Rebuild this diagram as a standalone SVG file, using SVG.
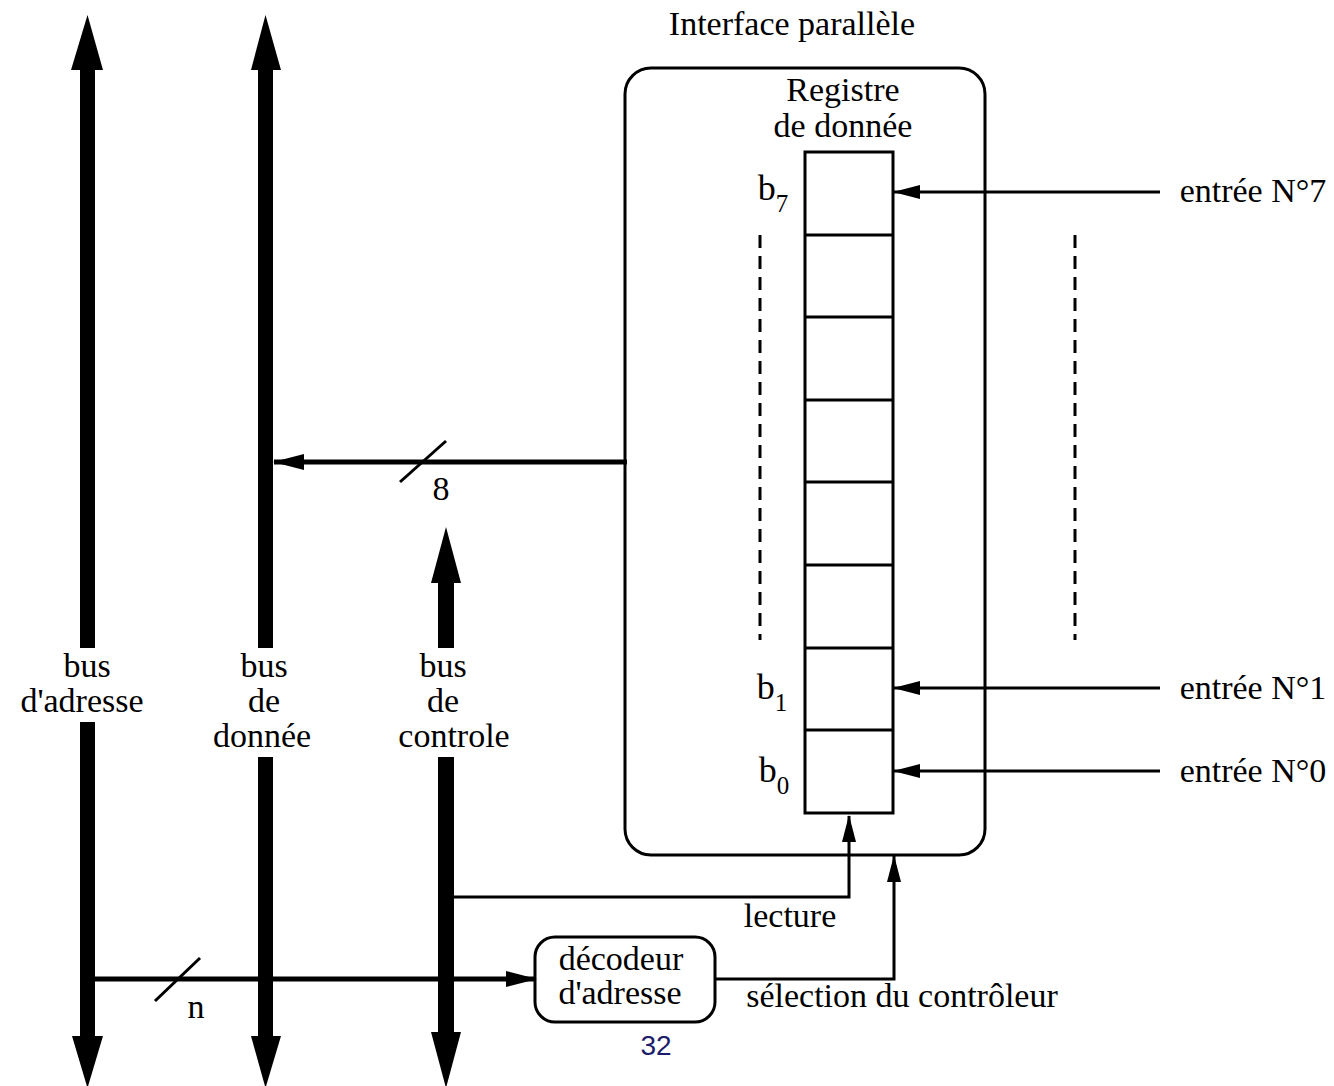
<svg xmlns="http://www.w3.org/2000/svg" width="1334" height="1086" viewBox="0 0 1334 1086">
  <style>
    .t { font-family: "Liberation Serif", "Times New Roman", serif; font-size: 34px; fill: #000; text-anchor: middle; }
    .b { font-size: 36px; }
    .sub { font-size: 25px; }
    .num { font-family: "Liberation Sans", Arial, sans-serif; font-size: 28px; fill: #1c1c6a; text-anchor: middle; }
    .box { fill: none; stroke: #000; stroke-width: 3; }
    .ln { fill: none; stroke: #000; stroke-width: 3; }
    .thick { fill: none; stroke: #000; stroke-width: 5; }
    .dash { fill: none; stroke: #000; stroke-width: 3; stroke-dasharray: 13 8; }
    .bus { fill: #000; }
  </style>
  <defs>
    <marker id="ah" markerUnits="userSpaceOnUse" markerWidth="28" markerHeight="14" refX="26" refY="7" orient="auto">
      <path d="M0,0 L27,7 L0,14 Z" fill="#000"/>
    </marker>
    <marker id="ahBig" markerUnits="userSpaceOnUse" markerWidth="32" markerHeight="16" refX="30" refY="8" orient="auto">
      <path d="M0,0 L31,8 L0,16 Z" fill="#000"/>
    </marker>
  </defs>

  <!-- system buses -->
  <g id="bus-adresse">
    <polygon class="bus" points="87.5,15 103,70 71,70"/>
    <rect class="bus" x="80" y="69" width="15" height="579"/>
    <rect class="bus" x="80" y="722" width="15" height="315"/>
    <polygon class="bus" points="72,1036 103,1036 87.5,1088"/>
    <text class="t" x="87" y="677">bus</text>
    <text class="t" x="82" y="712">d'adresse</text>
  </g>
  <g id="bus-donnee">
    <polygon class="bus" points="265.5,15 281,70 251,70"/>
    <rect class="bus" x="258" y="69" width="15" height="579"/>
    <rect class="bus" x="258" y="757" width="15" height="280"/>
    <polygon class="bus" points="251,1036 281,1036 265.5,1088"/>
    <text class="t" x="264" y="677">bus</text>
    <text class="t" x="264" y="712">de</text>
    <text class="t" x="262" y="747">donnée</text>
  </g>
  <g id="bus-controle">
    <polygon class="bus" points="446,527 461,583 431,583"/>
    <rect class="bus" x="438" y="582" width="16" height="66"/>
    <rect class="bus" x="438" y="757" width="16" height="276"/>
    <polygon class="bus" points="431,1032 461,1032 446,1088"/>
    <text class="t" x="443" y="677">bus</text>
    <text class="t" x="443" y="712">de</text>
    <text class="t" x="454" y="747">controle</text>
  </g>

  <!-- parallel interface -->
  <g id="interface">
    <text class="t" x="792" y="35">Interface parallèle</text>
    <rect class="box" x="625" y="68" width="360" height="787" rx="26" ry="26"/>
  </g>

  <g id="registre">
    <text class="t" x="843" y="101">Registre</text>
    <text class="t" x="843" y="137">de donnée</text>
    <rect class="box" x="805" y="152" width="88" height="661"/>
    <path class="ln" d="M805,235 H893 M805,317 H893 M805,400 H893 M805,482 H893 M805,565 H893 M805,648 H893 M805,730 H893"/>
    <text class="t b" x="773" y="200">b<tspan class="sub" dy="12">7</tspan></text>
    <text class="t b" x="772" y="699">b<tspan class="sub" dy="12">1</tspan></text>
    <text class="t b" x="774" y="782">b<tspan class="sub" dy="12">0</tspan></text>
  </g>

  <g id="decodeur">
    <rect class="box" x="535" y="937" width="180" height="85" rx="20" ry="20"/>
    <text class="t" x="621" y="970">décodeur</text>
    <text class="t" x="620" y="1004">d'adresse</text>
  </g>

  <g id="entrees">
    <text class="t" x="1253" y="202">entrée N°7</text>
    <text class="t" x="1253" y="699">entrée N°1</text>
    <text class="t" x="1253" y="782">entrée N°0</text>
  </g>

  <!-- connectors -->
  <g id="connectors">
    <line class="ln" x1="1160" y1="192" x2="894" y2="192" marker-end="url(#ah)"/>
    <line class="ln" x1="1160" y1="688" x2="894" y2="688" marker-end="url(#ah)"/>
    <line class="ln" x1="1160" y1="771" x2="894" y2="771" marker-end="url(#ah)"/>
    <line class="dash" x1="760" y1="235" x2="760" y2="640"/>
    <line class="dash" x1="1075" y1="235" x2="1075" y2="640"/>

    <!-- 8-bit data path to data bus -->
    <line class="thick" x1="627" y1="462" x2="274" y2="462" marker-end="url(#ahBig)"/>
    <line class="ln" x1="400" y1="482" x2="446" y2="441"/>
    <text class="t" x="441" y="500">8</text>

    <!-- n-bit address path to decoder -->
    <line class="thick" x1="95" y1="979" x2="536" y2="979" marker-end="url(#ahBig)"/>
    <line class="ln" x1="155" y1="1001" x2="200" y2="958"/>
    <text class="t" x="196" y="1018">n</text>

    <!-- read strobe -->
    <polyline class="ln" points="454,897 849,897 849,816" marker-end="url(#ah)"/>
    <text class="t" x="790" y="927">lecture</text>

    <!-- chip select -->
    <polyline class="ln" points="715,979 894,979 894,856" marker-end="url(#ah)"/>
    <text class="t" x="902" y="1007">sélection du contrôleur</text>
  </g>

  <text class="num" x="656" y="1055">32</text>
</svg>
